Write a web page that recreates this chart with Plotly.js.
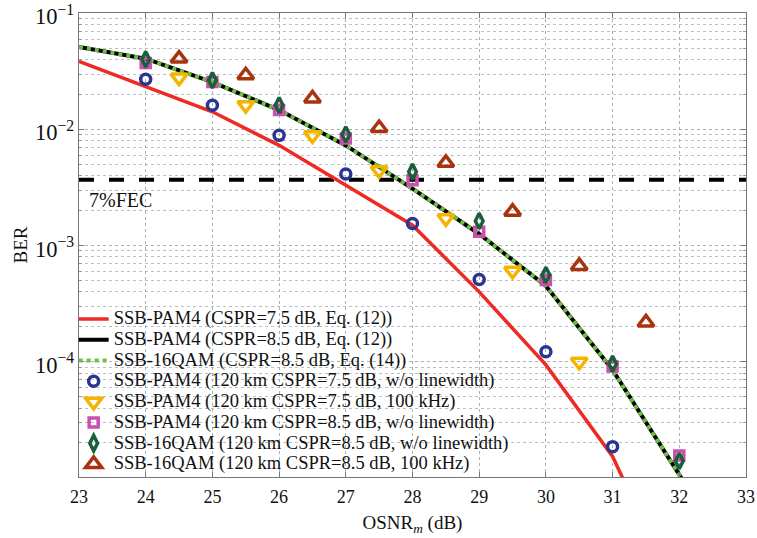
<!DOCTYPE html>
<html><head><meta charset="utf-8">
<script src="https://cdn.plot.ly/plotly-3.0.1.min.js"></script>
<style>html,body{margin:0;padding:0;background:#fff;}#chart{width:757px;height:538px;}</style>
</head><body><div id="chart"></div>
<script>
// Theory curves
const xRed = [23, 24, 25, 26, 27, 28, 29, 30, 31, 31.15];
const yRed = [0.0386, 0.0233, 0.0142, 0.0073, 0.0033, 0.00150, 0.00040, 0.000094, 0.0000153, 0.00001];
const xPam85 = [23, 24, 25, 26, 27, 28, 29, 30, 31, 32, 32.03];
const yPam85 = [0.0513, 0.0407, 0.0256, 0.0147, 0.0073, 0.0031, 0.00126, 0.00045, 0.000085, 0.0000110, 0.00001];
const xQam85 = [23, 24, 25, 26, 27, 28, 29, 30, 31, 32, 32.03];
const yQam85 = [0.0513, 0.0407, 0.0256, 0.0147, 0.0073, 0.0031, 0.00126, 0.00045, 0.000085, 0.0000110, 0.00001];
// Measurements
const xBlue = [24, 25, 26, 27, 28, 29, 30, 31];
const yBlue = [0.0271, 0.0162, 0.0089, 0.00413, 0.00155, 0.00051, 0.000122, 0.0000186];
const xYellow = [24.5, 25.5, 26.5, 27.5, 28.5, 29.5, 30.5];
const yYellow = [0.0280, 0.0162, 0.0089, 0.00445, 0.00172, 0.000607, 0.000100];
const xPink = [24, 25, 26, 27, 28, 29, 30, 31, 32];
const yPink = [0.0374, 0.0257, 0.0147, 0.00836, 0.00366, 0.00132, 0.000506, 0.000091, 0.0000156];
const xDiamond = [24, 25, 26, 27, 28, 29, 30, 31, 32];
const yDiamond = [0.0403, 0.0265, 0.0162, 0.00905, 0.00432, 0.00163, 0.000558, 0.000096, 0.0000140];
const xBrown = [24.5, 25.5, 26.5, 27.5, 28.5, 29.5, 30.5, 31.5];
const yBrown = [0.0408, 0.0293, 0.0185, 0.0103, 0.00516, 0.00196, 0.000668, 0.000218];
const xFec = [23, 33];
const yFec = [0.0037, 0.0037];
const names = [
  'SSB-PAM4 (CSPR=7.5 dB, Eq. (12))',
  'SSB-PAM4 (CSPR=8.5 dB, Eq. (12))',
  'SSB-16QAM (CSPR=8.5 dB, Eq. (14))',
  'SSB-PAM4 (120 km CSPR=7.5 dB, w/o linewidth)',
  'SSB-PAM4 (120 km CSPR=7.5 dB, 100 kHz)',
  'SSB-PAM4 (120 km CSPR=8.5 dB, w/o linewidth)',
  'SSB-16QAM (120 km CSPR=8.5 dB, w/o linewidth)',
  'SSB-16QAM (120 km CSPR=8.5 dB, 100 kHz)'
];

const font = 'Liberation Serif';
const nm = s => '<span style="font-size:18.5px">' + s + '</span>';
const traces = [
  {x: xFec, y: yFec, mode: 'lines', showlegend: false, hoverinfo: 'skip',
   line: {color: '#000', width: 4, dash: '15px,15px'}},
  {x: xRed, y: yRed, mode: 'lines', name: nm(names[0]), line: {color: '#ee2a24', width: 3.5}},
  {x: xPam85, y: yPam85, mode: 'lines', name: nm(names[1]), line: {color: '#000', width: 4}},
  {x: xQam85, y: yQam85, mode: 'lines', name: nm(names[2]), line: {color: '#6cc040', width: 4, dash: 'dot'}},
  {x: xBlue, y: yBlue, mode: 'markers', name: nm(names[3]),
   marker: {symbol: 'circle-open', size: 10, color: '#2a3590', line: {width: 3.5}}},
  {x: xYellow, y: yYellow, mode: 'markers', name: nm(names[4]),
   marker: {symbol: 'triangle-down-open', size: 14, color: '#f4b400', line: {width: 3.5}}},
  {x: xPink, y: yPink, mode: 'markers', name: nm(names[5]),
   marker: {symbol: 'square-open', size: 9, color: '#cc4fb0', line: {width: 3.5}}},
  {x: xDiamond, y: yDiamond, mode: 'markers', name: nm(names[6]),
   marker: {symbol: 'diamond-tall-open', size: 11, color: '#1b5e3b', line: {width: 3.5}}},
  {x: xBrown, y: yBrown, mode: 'markers', name: nm(names[7]),
   marker: {symbol: 'triangle-up-open', size: 14, color: '#a8340f', line: {width: 3.5}}}
];

const layout = {
  width: 757, height: 538,
  margin: {l: 79, r: 11, t: 13, b: 61},
  paper_bgcolor: '#fff', plot_bgcolor: '#fff',
  font: {family: font, size: 18, color: '#111'},
  showlegend: true,
  legend: {x: -0.008, y: -0.006, xanchor: 'left', yanchor: 'bottom', bgcolor: 'rgba(255,255,255,0)',
           borderwidth: 0, font: {family: font, size: 13.6, color: '#111'}, tracegroupgap: 0},
  xaxis: {range: [23, 33], dtick: 1, tick0: 23, showgrid: true, gridcolor: '#a8b0b8', griddash: 'dot',
          gridwidth: 1, zeroline: false, showline: true, linecolor: '#777', linewidth: 1.2, mirror: 'allticks',
          ticks: 'inside', ticklen: 5, tickcolor: '#777', ticklabelstandoff: 3,
          tickfont: {family: font, size: 18, color: '#111'},
          title: {text: 'OSNR<sub><i>m</i></sub> (dB)', font: {family: font, size: 19, color: '#111'}, standoff: 10}},
  yaxis: {type: 'log', range: [-4.992, -0.997], dtick: 1, exponentformat: 'power', showgrid: true,
          gridcolor: '#a8b0b8', griddash: 'dot', gridwidth: 1, zeroline: false, showline: true,
          linecolor: '#777', linewidth: 1.2, mirror: 'allticks', ticks: 'inside', ticklen: 5, tickcolor: '#777',
          ticklabeloverflow: 'allow', ticklabelshift: 3,
          minor: {dtick: 'D1', showgrid: true, gridcolor: '#b8c0c8', griddash: 'dot', ticks: 'inside', ticklen: 3, tickcolor: '#999'},
          tickfont: {family: font, size: 18, color: '#111'},
          title: {text: 'BER', font: {family: font, size: 19, color: '#111'}, standoff: 2}},
  shapes: [{type: 'rect', xref: 'paper', yref: 'paper', x0: 0.002, x1: 0.6, y0: 0.002, y1: 0.364,
            fillcolor: '#fff', line: {width: 0}, layer: 'between'}],
  annotations: [{x: 23.12, y: -2.61, xref: 'x', yref: 'y', text: '7%FEC', showarrow: false,
                 xanchor: 'left', yanchor: 'middle', font: {family: font, size: 20, color: '#111'}}]
};
Plotly.newPlot('chart', traces, layout, {displayModeBar: false, staticPlot: true});
</script></body></html>
